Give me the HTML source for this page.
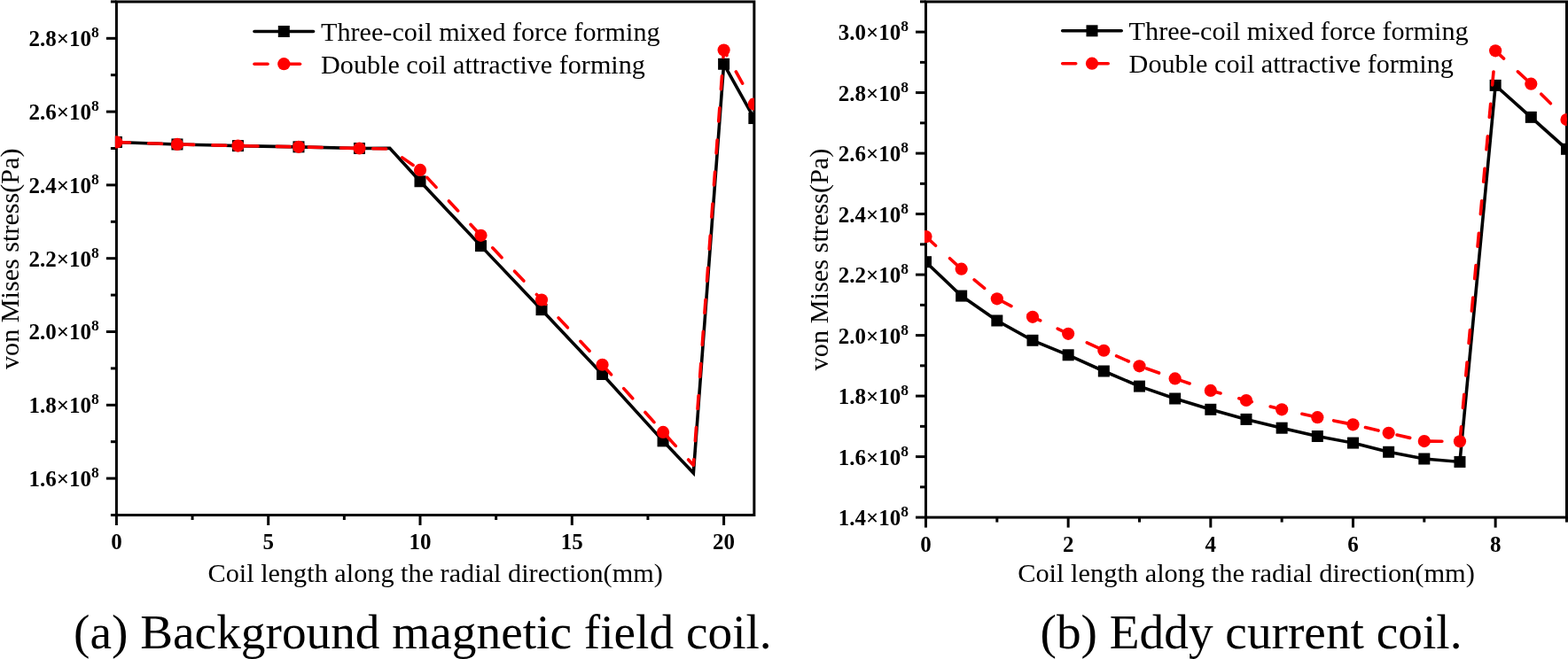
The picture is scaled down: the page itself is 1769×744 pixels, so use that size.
<!DOCTYPE html>
<html><head><meta charset="utf-8"><style>
html,body{margin:0;padding:0;background:#fff;}
svg{display:block;}
.tl{font-family:"Liberation Serif",serif;font-weight:bold;font-size:25px;fill:#000;}
.ti{font-family:"Liberation Serif",serif;font-size:30.3px;fill:#000;}
.lg{font-family:"Liberation Serif",serif;font-size:30px;fill:#000;}
.cap{font-family:"Liberation Serif",serif;font-size:55.3px;fill:#000;}
</style></head><body>
<svg width="1769" height="744" viewBox="0 0 1769 744">
<rect width="1769" height="744" fill="#fff"/>
<clipPath id="clipa"><rect x="129.90" y="0.45" width="721.16" height="582.55"/></clipPath>
<rect x="131.40" y="1.95" width="719.46" height="579.55" fill="none" stroke="#000" stroke-width="3"/>
<line x1="119.90" y1="540.10" x2="131.40" y2="540.10" stroke="#000" stroke-width="3"/>
<line x1="119.90" y1="457.30" x2="131.40" y2="457.30" stroke="#000" stroke-width="3"/>
<line x1="119.90" y1="374.50" x2="131.40" y2="374.50" stroke="#000" stroke-width="3"/>
<line x1="119.90" y1="291.70" x2="131.40" y2="291.70" stroke="#000" stroke-width="3"/>
<line x1="119.90" y1="208.90" x2="131.40" y2="208.90" stroke="#000" stroke-width="3"/>
<line x1="119.90" y1="126.10" x2="131.40" y2="126.10" stroke="#000" stroke-width="3"/>
<line x1="119.90" y1="43.30" x2="131.40" y2="43.30" stroke="#000" stroke-width="3"/>
<line x1="124.90" y1="581.50" x2="131.40" y2="581.50" stroke="#000" stroke-width="3"/>
<line x1="124.90" y1="498.70" x2="131.40" y2="498.70" stroke="#000" stroke-width="3"/>
<line x1="124.90" y1="415.90" x2="131.40" y2="415.90" stroke="#000" stroke-width="3"/>
<line x1="124.90" y1="333.10" x2="131.40" y2="333.10" stroke="#000" stroke-width="3"/>
<line x1="124.90" y1="250.30" x2="131.40" y2="250.30" stroke="#000" stroke-width="3"/>
<line x1="124.90" y1="167.50" x2="131.40" y2="167.50" stroke="#000" stroke-width="3"/>
<line x1="124.90" y1="84.70" x2="131.40" y2="84.70" stroke="#000" stroke-width="3"/>
<line x1="124.90" y1="1.90" x2="131.40" y2="1.90" stroke="#000" stroke-width="3"/>
<line x1="131.40" y1="581.50" x2="131.40" y2="593.00" stroke="#000" stroke-width="3"/>
<line x1="302.70" y1="581.50" x2="302.70" y2="593.00" stroke="#000" stroke-width="3"/>
<line x1="474.00" y1="581.50" x2="474.00" y2="593.00" stroke="#000" stroke-width="3"/>
<line x1="645.30" y1="581.50" x2="645.30" y2="593.00" stroke="#000" stroke-width="3"/>
<line x1="816.60" y1="581.50" x2="816.60" y2="593.00" stroke="#000" stroke-width="3"/>
<line x1="217.05" y1="581.50" x2="217.05" y2="587.00" stroke="#000" stroke-width="3"/>
<line x1="388.35" y1="581.50" x2="388.35" y2="587.00" stroke="#000" stroke-width="3"/>
<line x1="559.65" y1="581.50" x2="559.65" y2="587.00" stroke="#000" stroke-width="3"/>
<line x1="730.95" y1="581.50" x2="730.95" y2="587.00" stroke="#000" stroke-width="3"/>
<g clip-path="url(#clipa)">
<polyline points="131.40,160.46 199.92,162.95 268.44,164.60 336.96,165.84 405.48,167.50 439.74,167.29 474.00,204.76 542.52,277.62 611.04,349.66 679.56,422.52 748.08,497.87 782.34,534.10 816.60,72.28 850.86,133.55" fill="none" stroke="#000" stroke-width="3.6" stroke-linejoin="miter"/>
<rect x="124.90" y="153.96" width="13" height="13" fill="#000"/>
<rect x="193.42" y="156.45" width="13" height="13" fill="#000"/>
<rect x="261.94" y="158.10" width="13" height="13" fill="#000"/>
<rect x="330.46" y="159.34" width="13" height="13" fill="#000"/>
<rect x="398.98" y="161.00" width="13" height="13" fill="#000"/>
<rect x="467.50" y="198.26" width="13" height="13" fill="#000"/>
<rect x="536.02" y="271.12" width="13" height="13" fill="#000"/>
<rect x="604.54" y="343.16" width="13" height="13" fill="#000"/>
<rect x="673.06" y="416.02" width="13" height="13" fill="#000"/>
<rect x="741.58" y="491.37" width="13" height="13" fill="#000"/>
<rect x="810.10" y="65.78" width="13" height="13" fill="#000"/>
<rect x="844.36" y="127.05" width="13" height="13" fill="#000"/>
<polyline points="131.40,160.46 199.92,162.95 268.44,164.60 336.96,165.84 405.48,167.50 439.74,168.12 474.00,191.93 542.52,265.82 611.04,338.48 679.56,411.76 748.08,487.94 782.34,525.20 816.60,56.55 850.86,117.61" fill="none" stroke="#f00" stroke-width="3.6" stroke-dasharray="15 21.17" stroke-linecap="round" stroke-linejoin="round"/>
<circle cx="131.40" cy="160.46" r="7.1" fill="#f00"/>
<circle cx="199.92" cy="162.95" r="7.1" fill="#f00"/>
<circle cx="268.44" cy="164.60" r="7.1" fill="#f00"/>
<circle cx="336.96" cy="165.84" r="7.1" fill="#f00"/>
<circle cx="405.48" cy="167.50" r="7.1" fill="#f00"/>
<circle cx="474.00" cy="191.93" r="7.1" fill="#f00"/>
<circle cx="542.52" cy="265.82" r="7.1" fill="#f00"/>
<circle cx="611.04" cy="338.48" r="7.1" fill="#f00"/>
<circle cx="679.56" cy="411.76" r="7.1" fill="#f00"/>
<circle cx="748.08" cy="487.94" r="7.1" fill="#f00"/>
<circle cx="816.60" cy="56.55" r="7.1" fill="#f00"/>
<circle cx="850.86" cy="117.61" r="7.1" fill="#f00"/>
</g>
<text x="111.80" y="549.00" text-anchor="end" class="tl">1.6×10<tspan dy="-10" font-size="17.5">8</tspan></text>
<text x="111.80" y="466.20" text-anchor="end" class="tl">1.8×10<tspan dy="-10" font-size="17.5">8</tspan></text>
<text x="111.80" y="383.40" text-anchor="end" class="tl">2.0×10<tspan dy="-10" font-size="17.5">8</tspan></text>
<text x="111.80" y="300.60" text-anchor="end" class="tl">2.2×10<tspan dy="-10" font-size="17.5">8</tspan></text>
<text x="111.80" y="217.80" text-anchor="end" class="tl">2.4×10<tspan dy="-10" font-size="17.5">8</tspan></text>
<text x="111.80" y="135.00" text-anchor="end" class="tl">2.6×10<tspan dy="-10" font-size="17.5">8</tspan></text>
<text x="111.80" y="52.20" text-anchor="end" class="tl">2.8×10<tspan dy="-10" font-size="17.5">8</tspan></text>
<text x="131.40" y="620.00" text-anchor="middle" class="tl">0</text>
<text x="302.70" y="620.00" text-anchor="middle" class="tl">5</text>
<text x="474.00" y="620.00" text-anchor="middle" class="tl">10</text>
<text x="645.30" y="620.00" text-anchor="middle" class="tl">15</text>
<text x="816.60" y="620.00" text-anchor="middle" class="tl">20</text>
<text x="491.13" y="656.70" text-anchor="middle" class="ti" style="font-size:30.25px">Coil length along the radial direction(mm)</text>
<clipPath id="clipb"><rect x="1043.00" y="0.45" width="724.67" height="585.15"/></clipPath>
<rect x="1044.50" y="1.95" width="722.97" height="582.15" fill="none" stroke="#000" stroke-width="3"/>
<line x1="1033.00" y1="584.10" x2="1044.50" y2="584.10" stroke="#000" stroke-width="3"/>
<line x1="1033.00" y1="515.60" x2="1044.50" y2="515.60" stroke="#000" stroke-width="3"/>
<line x1="1033.00" y1="447.10" x2="1044.50" y2="447.10" stroke="#000" stroke-width="3"/>
<line x1="1033.00" y1="378.60" x2="1044.50" y2="378.60" stroke="#000" stroke-width="3"/>
<line x1="1033.00" y1="310.10" x2="1044.50" y2="310.10" stroke="#000" stroke-width="3"/>
<line x1="1033.00" y1="241.60" x2="1044.50" y2="241.60" stroke="#000" stroke-width="3"/>
<line x1="1033.00" y1="173.10" x2="1044.50" y2="173.10" stroke="#000" stroke-width="3"/>
<line x1="1033.00" y1="104.60" x2="1044.50" y2="104.60" stroke="#000" stroke-width="3"/>
<line x1="1033.00" y1="36.10" x2="1044.50" y2="36.10" stroke="#000" stroke-width="3"/>
<line x1="1038.00" y1="549.85" x2="1044.50" y2="549.85" stroke="#000" stroke-width="3"/>
<line x1="1038.00" y1="481.35" x2="1044.50" y2="481.35" stroke="#000" stroke-width="3"/>
<line x1="1038.00" y1="412.85" x2="1044.50" y2="412.85" stroke="#000" stroke-width="3"/>
<line x1="1038.00" y1="344.35" x2="1044.50" y2="344.35" stroke="#000" stroke-width="3"/>
<line x1="1038.00" y1="275.85" x2="1044.50" y2="275.85" stroke="#000" stroke-width="3"/>
<line x1="1038.00" y1="207.35" x2="1044.50" y2="207.35" stroke="#000" stroke-width="3"/>
<line x1="1038.00" y1="138.85" x2="1044.50" y2="138.85" stroke="#000" stroke-width="3"/>
<line x1="1038.00" y1="70.35" x2="1044.50" y2="70.35" stroke="#000" stroke-width="3"/>
<line x1="1038.00" y1="1.85" x2="1044.50" y2="1.85" stroke="#000" stroke-width="3"/>
<line x1="1044.50" y1="584.10" x2="1044.50" y2="595.60" stroke="#000" stroke-width="3"/>
<line x1="1205.16" y1="584.10" x2="1205.16" y2="595.60" stroke="#000" stroke-width="3"/>
<line x1="1365.82" y1="584.10" x2="1365.82" y2="595.60" stroke="#000" stroke-width="3"/>
<line x1="1526.48" y1="584.10" x2="1526.48" y2="595.60" stroke="#000" stroke-width="3"/>
<line x1="1687.14" y1="584.10" x2="1687.14" y2="595.60" stroke="#000" stroke-width="3"/>
<line x1="1124.83" y1="584.10" x2="1124.83" y2="589.60" stroke="#000" stroke-width="3"/>
<line x1="1285.49" y1="584.10" x2="1285.49" y2="589.60" stroke="#000" stroke-width="3"/>
<line x1="1446.15" y1="584.10" x2="1446.15" y2="589.60" stroke="#000" stroke-width="3"/>
<line x1="1606.81" y1="584.10" x2="1606.81" y2="589.60" stroke="#000" stroke-width="3"/>
<line x1="1767.47" y1="584.10" x2="1767.47" y2="589.60" stroke="#000" stroke-width="3"/>
<g clip-path="url(#clipb)">
<polyline points="1044.50,295.71 1084.66,334.08 1124.83,361.99 1164.99,384.29 1205.16,400.79 1245.33,419.01 1285.49,436.11 1325.65,450.01 1365.82,462.31 1405.99,473.40 1446.15,483.20 1486.32,492.52 1526.48,500.08 1566.64,510.29 1606.81,518.00 1646.97,521.42 1687.14,96.38 1727.30,132.34 1767.47,168.31" fill="none" stroke="#000" stroke-width="3.6" stroke-linejoin="miter"/>
<rect x="1038.00" y="289.21" width="13" height="13" fill="#000"/>
<rect x="1078.16" y="327.58" width="13" height="13" fill="#000"/>
<rect x="1118.33" y="355.49" width="13" height="13" fill="#000"/>
<rect x="1158.49" y="377.79" width="13" height="13" fill="#000"/>
<rect x="1198.66" y="394.29" width="13" height="13" fill="#000"/>
<rect x="1238.83" y="412.51" width="13" height="13" fill="#000"/>
<rect x="1278.99" y="429.61" width="13" height="13" fill="#000"/>
<rect x="1319.15" y="443.51" width="13" height="13" fill="#000"/>
<rect x="1359.32" y="455.81" width="13" height="13" fill="#000"/>
<rect x="1399.49" y="466.90" width="13" height="13" fill="#000"/>
<rect x="1439.65" y="476.70" width="13" height="13" fill="#000"/>
<rect x="1479.82" y="486.02" width="13" height="13" fill="#000"/>
<rect x="1519.98" y="493.58" width="13" height="13" fill="#000"/>
<rect x="1560.14" y="503.79" width="13" height="13" fill="#000"/>
<rect x="1600.31" y="511.50" width="13" height="13" fill="#000"/>
<rect x="1640.47" y="514.92" width="13" height="13" fill="#000"/>
<rect x="1680.64" y="89.88" width="13" height="13" fill="#000"/>
<rect x="1720.80" y="125.84" width="13" height="13" fill="#000"/>
<rect x="1760.97" y="161.81" width="13" height="13" fill="#000"/>
<polyline points="1044.50,267.12 1084.66,303.70 1124.83,337.29 1164.99,357.81 1205.16,376.78 1245.33,395.73 1285.49,413.30 1325.65,427.41 1365.82,440.90 1405.99,452.00 1446.15,462.31 1486.32,471.21 1526.48,479.30 1566.64,488.82 1606.81,498.10 1646.97,498.30 1687.14,57.33 1727.30,94.67 1767.47,135.08" fill="none" stroke="#f00" stroke-width="3.6" stroke-dasharray="15 21.6" stroke-linecap="round" stroke-linejoin="round"/>
<circle cx="1044.50" cy="267.12" r="7.1" fill="#f00"/>
<circle cx="1084.66" cy="303.70" r="7.1" fill="#f00"/>
<circle cx="1124.83" cy="337.29" r="7.1" fill="#f00"/>
<circle cx="1164.99" cy="357.81" r="7.1" fill="#f00"/>
<circle cx="1205.16" cy="376.78" r="7.1" fill="#f00"/>
<circle cx="1245.33" cy="395.73" r="7.1" fill="#f00"/>
<circle cx="1285.49" cy="413.30" r="7.1" fill="#f00"/>
<circle cx="1325.65" cy="427.41" r="7.1" fill="#f00"/>
<circle cx="1365.82" cy="440.90" r="7.1" fill="#f00"/>
<circle cx="1405.99" cy="452.00" r="7.1" fill="#f00"/>
<circle cx="1446.15" cy="462.31" r="7.1" fill="#f00"/>
<circle cx="1486.32" cy="471.21" r="7.1" fill="#f00"/>
<circle cx="1526.48" cy="479.30" r="7.1" fill="#f00"/>
<circle cx="1566.64" cy="488.82" r="7.1" fill="#f00"/>
<circle cx="1606.81" cy="498.10" r="7.1" fill="#f00"/>
<circle cx="1646.97" cy="498.30" r="7.1" fill="#f00"/>
<circle cx="1687.14" cy="57.33" r="7.1" fill="#f00"/>
<circle cx="1727.30" cy="94.67" r="7.1" fill="#f00"/>
<circle cx="1767.47" cy="135.08" r="7.1" fill="#f00"/>
</g>
<text x="1024.90" y="593.00" text-anchor="end" class="tl">1.4×10<tspan dy="-10" font-size="17.5">8</tspan></text>
<text x="1024.90" y="524.50" text-anchor="end" class="tl">1.6×10<tspan dy="-10" font-size="17.5">8</tspan></text>
<text x="1024.90" y="456.00" text-anchor="end" class="tl">1.8×10<tspan dy="-10" font-size="17.5">8</tspan></text>
<text x="1024.90" y="387.50" text-anchor="end" class="tl">2.0×10<tspan dy="-10" font-size="17.5">8</tspan></text>
<text x="1024.90" y="319.00" text-anchor="end" class="tl">2.2×10<tspan dy="-10" font-size="17.5">8</tspan></text>
<text x="1024.90" y="250.50" text-anchor="end" class="tl">2.4×10<tspan dy="-10" font-size="17.5">8</tspan></text>
<text x="1024.90" y="182.00" text-anchor="end" class="tl">2.6×10<tspan dy="-10" font-size="17.5">8</tspan></text>
<text x="1024.90" y="113.50" text-anchor="end" class="tl">2.8×10<tspan dy="-10" font-size="17.5">8</tspan></text>
<text x="1024.90" y="45.00" text-anchor="end" class="tl">3.0×10<tspan dy="-10" font-size="17.5">8</tspan></text>
<text x="1044.50" y="623.00" text-anchor="middle" class="tl">0</text>
<text x="1205.16" y="623.00" text-anchor="middle" class="tl">2</text>
<text x="1365.82" y="623.00" text-anchor="middle" class="tl">4</text>
<text x="1526.48" y="623.00" text-anchor="middle" class="tl">6</text>
<text x="1687.14" y="623.00" text-anchor="middle" class="tl">8</text>
<text x="1405.99" y="656.70" text-anchor="middle" class="ti" style="font-size:30.4px">Coil length along the radial direction(mm)</text>
<text transform="translate(21.2,292.2) rotate(-90)" text-anchor="middle" class="ti" style="font-size:30.15px">von Mises stress(Pa)</text>
<text transform="translate(933.9,293.0) rotate(-90)" text-anchor="middle" class="ti" style="font-size:30.3px">von Mises stress(Pa)</text>
<line x1="287.0" y1="35.5" x2="353.5" y2="35.5" stroke="#000" stroke-width="3.6" stroke-linecap="round"/>
<rect x="313.8" y="29.0" width="13" height="13" fill="#000"/>
<line x1="287.0" y1="72.2" x2="302.0" y2="72.2" stroke="#f00" stroke-width="3.6" stroke-linecap="round"/>
<line x1="320.0" y1="72.2" x2="338.5" y2="72.2" stroke="#f00" stroke-width="3.6" stroke-linecap="round"/>
<circle cx="320.3" cy="72.2" r="7.1" fill="#f00"/>
<text x="362.1" y="46" class="lg" style="font-size:30.15px">Three-coil mixed force forming</text>
<text x="362.1" y="83.2" class="lg" style="font-size:30.15px">Double coil attractive forming</text>
<line x1="1198.7" y1="34.8" x2="1265.2" y2="34.8" stroke="#000" stroke-width="3.6" stroke-linecap="round"/>
<rect x="1225.5" y="28.3" width="13" height="13" fill="#000"/>
<line x1="1198.7" y1="71.7" x2="1213.7" y2="71.7" stroke="#f00" stroke-width="3.6" stroke-linecap="round"/>
<line x1="1231.7" y1="71.7" x2="1250.2" y2="71.7" stroke="#f00" stroke-width="3.6" stroke-linecap="round"/>
<circle cx="1232.0" cy="71.7" r="7.1" fill="#f00"/>
<text x="1273.6" y="45" class="lg" style="font-size:30.2px">Three-coil mixed force forming</text>
<text x="1273.6" y="82" class="lg" style="font-size:30.2px">Double coil attractive forming</text>
<text x="83" y="732" class="cap">(a) Background magnetic field coil.</text>
<text x="1173.5" y="731.6" class="cap">(b) Eddy current coil.</text>
</svg></body></html>
